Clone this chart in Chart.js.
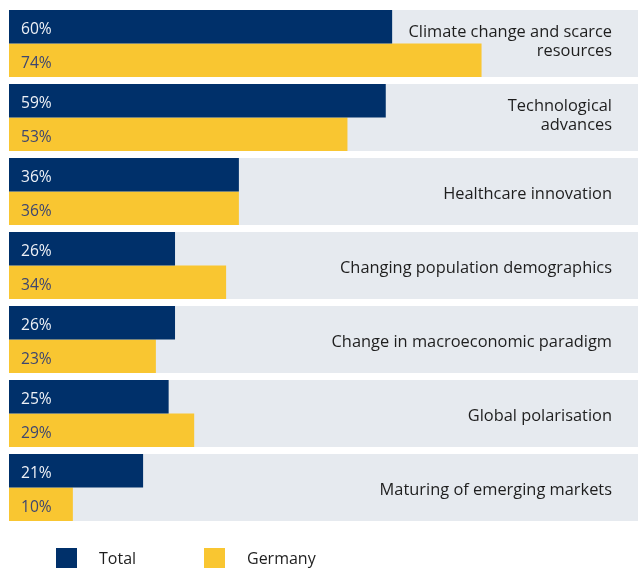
<!DOCTYPE html>
<html>
<head>
<meta charset="utf-8">
<script src="https://cdn.jsdelivr.net/npm/chart.js@4"></script>
<style>
  html, body { margin: 0; padding: 0; background: #ffffff; }
  #wrap { position: relative; width: 638px; height: 568px; overflow: hidden; }
  #c { position: absolute; left: 0; top: 0; }
  .lg-box { position: absolute; width: 21px; height: 20px; top: 548px; }
  .lg-text { position: absolute; top: 547px; font-family: "Open Sans", sans-serif; font-size: 16px; color: #1e1e1e; line-height: 22px; white-space: nowrap; }
</style>
</head>
<body>
<div id="wrap">
  <canvas id="c" width="638" height="568"></canvas>
  <div class="lg-box" style="left:56px;background:#00306a;"></div>
  <div class="lg-text" style="left:99px;" id="lg0"></div>
  <div class="lg-box" style="left:204px;background:#f9c631;"></div>
  <div class="lg-text" style="left:247px;" id="lg1"></div>
</div>
<script>
const categories = [
  ["Climate change and scarce", "resources"],
  ["Technological", "advances"],
  ["Healthcare innovation"],
  ["Changing population demographics"],
  ["Change in macroeconomic paradigm"],
  ["Global polarisation"],
  ["Maturing of emerging markets"]
];
const seriesNames = ["Total", "Germany"];
const totalValues = [60, 59, 36, 26, 26, 25, 21];
const germanyValues = [74, 53, 36, 34, 23, 29, 10];

const NAVY = "#00306a";
const YELLOW = "#f9c631";
const BAND = "#e6eaef";
const FONT = "'Open Sans', sans-serif";

document.getElementById("lg0").textContent = seriesNames[0];
document.getElementById("lg1").textContent = seriesNames[1];

const CAT_PCT = 67 / 74;

const bandPlugin = {
  id: "bands",
  beforeDatasetsDraw(chart) {
    const { ctx, chartArea, scales } = chart;
    const y = scales.y;
    const step = (y.bottom - y.top) / categories.length;
    const h = step * CAT_PCT;
    ctx.save();
    ctx.fillStyle = BAND;
    categories.forEach((c, i) => {
      const cy = y.getPixelForValue(i);
      ctx.fillRect(chartArea.left, cy - h / 2, chartArea.right - chartArea.left, h);
    });
    ctx.restore();
  },
  afterDatasetsDraw(chart) {
    const { ctx, chartArea, scales } = chart;
    const y = scales.y;
    ctx.save();
    // value labels
    ctx.font = "15.6px " + FONT;
    ctx.textAlign = "left";
    ctx.textBaseline = "alphabetic";
    chart.data.datasets.forEach((ds, di) => {
      const meta = chart.getDatasetMeta(di);
      ctx.fillStyle = di === 0 ? "#eef1f6" : "#3d4670";
      meta.data.forEach((el, i) => {
        ctx.fillText(ds.data[i] + "%", chartArea.left + 12, el.y + 7.4);
      });
    });
    // category labels
    ctx.font = "16.4px " + FONT;
    ctx.fillStyle = "#1e1e1e";
    ctx.textAlign = "right";
    categories.forEach((lines, i) => {
      const cy = y.getPixelForValue(i);
      const offs = lines.length === 1 ? [7] : [-6.3, 12.7];
      lines.forEach((ln, k) => {
        ctx.fillText(ln, chartArea.right - 26, cy + offs[k]);
      });
    });
    ctx.restore();
  }
};

new Chart(document.getElementById("c"), {
  type: "bar",
  data: {
    labels: categories.map(c => c.join(" ")),
    datasets: [
      { label: seriesNames[0], data: totalValues, backgroundColor: NAVY, borderWidth: 0, barPercentage: 1.0, categoryPercentage: CAT_PCT },
      { label: seriesNames[1], data: germanyValues, backgroundColor: YELLOW, borderWidth: 0, barPercentage: 1.0, categoryPercentage: CAT_PCT }
    ]
  },
  options: {
    indexAxis: "y",
    responsive: false,
    animation: false,
    layout: { padding: { left: 9, right: 0, top: 6.5, bottom: 43.5 } },
    plugins: { legend: { display: false }, tooltip: { enabled: false } },
    scales: {
      x: { display: false, min: 0, max: 98.5 },
      y: { display: false, grid: { display: false } }
    }
  },
  plugins: [bandPlugin]
});
</script>
</body>
</html>
